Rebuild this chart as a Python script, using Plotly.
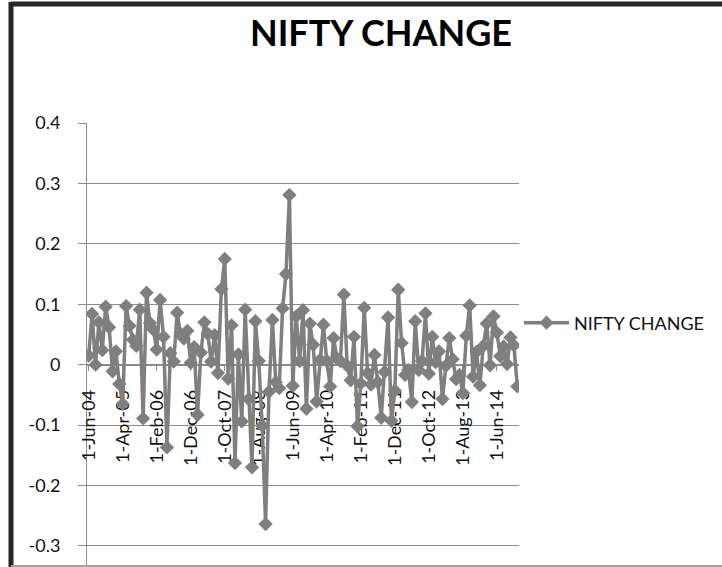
import pandas as pd
import plotly.graph_objects as go

# Monthly NIFTY change, Jun 2004 .. Dec 2014
START_MONTH = "2004-06-01"
NIFTY_CHANGE = [
    0.015, 0.084, 0.000, 0.070, 0.024, 0.096, 0.062,
    -0.011, 0.022, -0.032, -0.065, 0.097, 0.064, 0.041, 0.031, 0.091, -0.089, 0.119, 0.069,
    0.058, 0.025, 0.107, 0.046, -0.137, 0.019, 0.005, 0.086, 0.051, 0.043, 0.056, 0.003,
    0.029, -0.083, 0.020, 0.070, 0.051, 0.005, 0.049, -0.014, 0.125, 0.175, -0.023, 0.065,
    -0.163, 0.017, -0.094, 0.091, -0.057, -0.170, 0.072, 0.006, -0.101, -0.264, -0.045, 0.074,
    -0.029, -0.039, 0.093, 0.150, 0.281, -0.035, 0.080, 0.006, 0.090, -0.073, 0.068, 0.033,
    -0.061, 0.008, 0.066, 0.006, -0.036, 0.044, 0.010, 0.006, 0.116, -0.002, -0.026, 0.046,
    -0.102, -0.031, 0.094, -0.014, -0.033, 0.016, -0.029, -0.088, -0.012, 0.078, -0.093, -0.043,
    0.124, 0.036, -0.017, -0.009, -0.062, 0.072, -0.009, 0.006, 0.085, -0.015, 0.046, 0.004,
    0.022, -0.057, -0.002, 0.044, 0.009, -0.024, -0.017, -0.047, 0.048, 0.098, -0.020, 0.021,
    -0.034, 0.031, 0.068, -0.001, 0.080, 0.053, 0.014, 0.030, 0.001, 0.045, 0.032, -0.036,
]
X_TICK_LABELS = ["1-Jun-04", "1-Apr-05", "1-Feb-06", "1-Dec-06", "1-Oct-07", "1-Aug-08",
                 "1-Jun-09", "1-Apr-10", "1-Feb-11", "1-Dec-11", "1-Oct-12", "1-Aug-13", "1-Jun-14"]
Y_TICK_VALUES = [-0.3, -0.2, -0.1, 0, 0.1, 0.2, 0.3, 0.4]
Y_TICK_LABELS = ["-0.3", "-0.2", "-0.1", "0", "0.1", "0.2", "0.3", "0.4"]

months = pd.date_range(START_MONTH, periods=len(NIFTY_CHANGE), freq="MS")
categories = [f"{d.day}-{d.strftime('%b-%y')}" for d in months]

W, H = 722, 567
ML, MR, MT, MB = 87, 203, 123, 0
PW, PH = W - ML - MR, H - MT - MB
Y_RANGE = [-0.335, 0.4]

def px_x(px):
    return (px - ML) / PW

def px_y(py):
    return (H - MB - py) / PH

GRAY = "#7f7f7f"
AXIS = "#8c8c8c"
FONT = "Lato, 'Noto Sans', sans-serif"

fig = go.Figure()
fig.add_trace(go.Scatter(
    x=categories, y=NIFTY_CHANGE, mode="lines+markers", name="NIFTY CHANGE",
    line=dict(color=GRAY, width=3.5),
    marker=dict(symbol="diamond", size=11, color=GRAY),
))

zero_pos = (0 - Y_RANGE[0]) / (Y_RANGE[1] - Y_RANGE[0])

fig.update_layout(
    width=W, height=H,
    margin=dict(l=ML, r=MR, t=MT, b=MB, pad=0),
    paper_bgcolor="white", plot_bgcolor="white",
    font=dict(family=FONT, size=18, color="#111111"),
    title=dict(text="<b>NIFTY CHANGE</b>", x=381 / W, xanchor="center",
               y=1 - 33 / H, yanchor="middle", yref="container",
               font=dict(family=FONT, size=36, color="black")),
    showlegend=True,
    legend=dict(x=px_x(519), xanchor="left", y=px_y(323), yanchor="middle",
                bgcolor="rgba(0,0,0,0)", font=dict(size=18), itemwidth=45),
    xaxis=dict(
        type="category", range=[-0.5, len(categories) - 0.5],
        tickmode="array", tickvals=[c for c in categories if c in X_TICK_LABELS],
        ticktext=[c for c in categories if c in X_TICK_LABELS],
        tickangle=-90, showgrid=False, showline=True, linecolor=AXIS, linewidth=1,
        ticks="outside", ticklen=5, tickcolor=AXIS,
        anchor="free", position=zero_pos, layer="below traces",
        ticklabelstandoff=12, tickfont=dict(size=18),
    ),
    yaxis=dict(
        range=Y_RANGE, tickmode="array", tickvals=Y_TICK_VALUES, ticktext=Y_TICK_LABELS,
        showgrid=True, gridcolor=AXIS, gridwidth=1, zeroline=False,
        showline=True, linecolor=AXIS, linewidth=1,
        ticks="outside", ticklen=8, tickcolor=AXIS, layer="below traces",
        ticklabelstandoff=14, tickfont=dict(size=18),
    ),
    shapes=[
        dict(type="line", xref="paper", yref="paper", x0=px_x(11), x1=px_x(W + 5),
             y0=px_y(4), y1=px_y(4), line=dict(color="#262626", width=5), layer="above"),
        dict(type="line", xref="paper", yref="paper", x0=px_x(11), x1=px_x(11),
             y0=px_y(2), y1=px_y(H + 5), line=dict(color="#262626", width=5), layer="above"),
        dict(type="line", xref="paper", yref="paper", x0=px_x(11), x1=px_x(W + 5),
             y0=px_y(566), y1=px_y(566), line=dict(color="#a0a0a0", width=2), layer="above"),
    ],
)

fig.write_html("out.html")
